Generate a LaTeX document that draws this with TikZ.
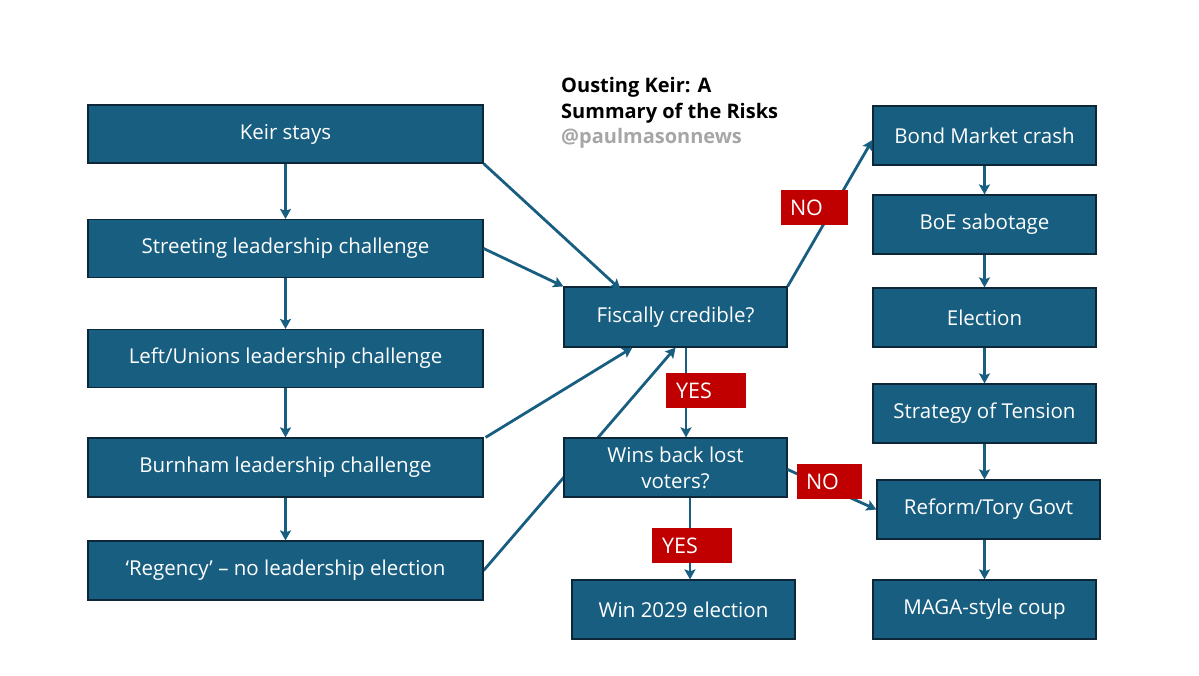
\documentclass[tikz,border=0pt]{standalone}
\usepackage{fontspec}
\setmainfont{Open Sans}
\usetikzlibrary{arrows.meta,backgrounds,calc}
\definecolor{boxblue}{RGB}{24,94,128}
\definecolor{boxedge}{RGB}{12,40,56}
\definecolor{lblred}{RGB}{192,0,0}
\definecolor{handlegray}{RGB}{166,166,166}
\begin{document}
\begin{tikzpicture}[x=1pt,y=-1pt,
  stepbox/.style={draw=boxedge,line width=1.2pt,fill=boxblue,text=white,
    minimum width=223pt,minimum height=59pt,inner sep=0pt,align=center,
    font=\fontsize{20.5}{26}\selectfont},
  widebox/.style={stepbox,minimum width=395pt,minimum height=58pt},
  conn/.style={draw=boxblue,line width=2.8pt,-{Stealth[length=10pt,width=11pt,inset=2pt]}},
  lbl/.style={fill=lblred,text=white,minimum width=#1,minimum height=35pt,inner sep=0pt},
  lbltext/.style={text=white,anchor=west,inner sep=0pt,font=\fontsize{21.5}{24}\selectfont},
  ttl/.style={anchor=base west,inner sep=0pt,font=\fontsize{20}{24}\bfseries}
]
\useasboundingbox (0,0) rectangle (1199,675);
% title
\node[ttl] (t1) at (561,92) {Ousting Keir: A};
\node[ttl] (t2) at (561,118) {Summary of the Risks};
\node[ttl,text=handlegray] (t3) at (561,143) {@paulmasonnews};
% left column
\node[widebox] (keir) at (285.5,134) {Keir stays};
\node[widebox] (street) at (285.5,248.5) {Streeting leadership challenge};
\node[widebox] (left) at (285.5,358.5) {Left/Unions leadership challenge};
\node[widebox,minimum height=59pt] (burn) at (285.5,467.5) {Burnham leadership challenge};
\node[widebox,minimum height=59pt] (reg) at (285.5,570.5) {‘Regency’ – no leadership election};
% centre
\node[stepbox,minimum height=60pt] (fiscal) at (675.5,317) {Fiscally credible?};
\node[stepbox] (wins) at (675.5,467.5) {Wins back lost\\voters?};
\node[stepbox] (win29) at (683.5,609.5) {Win 2029 election};
% right column
\node[stepbox] (bond) at (984.5,135.5) {Bond Market crash};
\node[stepbox] (boe) at (984.5,224.5) {BoE sabotage};
\node[stepbox] (elec) at (984.5,317.5) {Election};
\node[stepbox] (strat) at (984.5,413.5) {Strategy of Tension};
\node[stepbox] (reform) at (988.5,509.5) {Reform/Tory Govt};
\node[stepbox] (maga) at (984.5,609.5) {MAGA-style coup};
% connectors behind boxes
\begin{scope}[on background layer]
\draw[conn] (reg.east) -- (fiscal.south);
\end{scope}
\draw[conn] (keir.south) -- (street.north);
\draw[conn] (street.south) -- (left.north);
\draw[conn] (left.south) -- (burn.north);
\draw[conn] (burn.south) -- (reg.north);
\draw[conn] (keir.south east) -- ([xshift=57pt,yshift=-3pt]fiscal.north west);
\draw[conn] (street.east) -- (fiscal.north west);
\draw[conn] ([xshift=2pt]burn.north east) -- ([xshift=69pt]fiscal.south west);
\draw[conn] (fiscal.north east) -- ([yshift=-4.5pt]bond.west);
\draw[conn] ([xshift=10.5pt]fiscal.south) -- ([xshift=10.5pt]wins.north);
\draw[conn] ([xshift=14.5pt]wins.south) -- ([xshift=6.5pt]win29.north);
\draw[conn] ([yshift=-2pt]wins.east) -- (reform.west);
\draw[conn] (bond.south) -- (boe.north);
\draw[conn] (boe.south) -- (elec.north);
\draw[conn] (elec.south) -- (strat.north);
\draw[conn] (strat.south) -- (strat.south |- reform.north);
\draw[conn] (maga.north |- reform.south) -- (maga.north);
% labels
\node[lbl=67pt] (no1) at (814.5,207.5) {};
\node[lbltext] at ([xshift=9pt]no1.west) {NO};
\node[lbl=80pt] (yes1) at (706,390.5) {};
\node[lbltext] at ([xshift=10pt]yes1.west) {YES};
\node[lbl=65pt] (no2) at (829.5,481.5) {};
\node[lbltext] at ([xshift=9pt]no2.west) {NO};
\node[lbl=80pt] (yes2) at (692,545.5) {};
\node[lbltext] at ([xshift=10pt]yes2.west) {YES};
\end{tikzpicture}
\end{document}
